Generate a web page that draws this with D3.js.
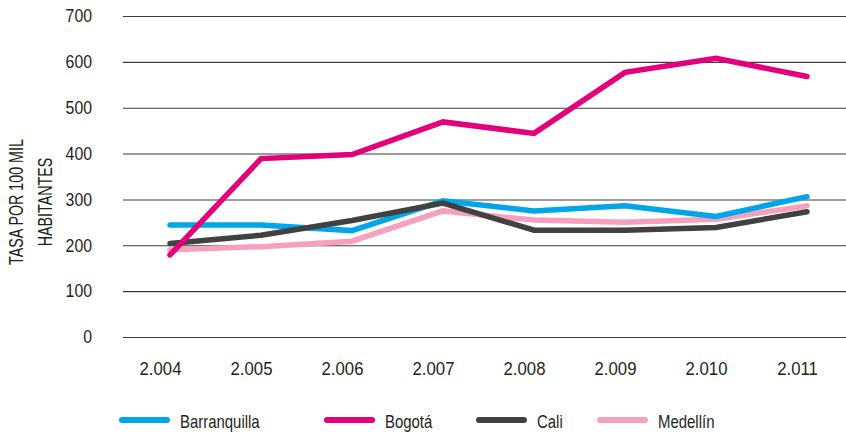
<!DOCTYPE html>
<html>
<head>
<meta charset="utf-8">
<script src="https://cdn.jsdelivr.net/npm/d3@7"></script>
<style>
  html, body { margin: 0; padding: 0; background: #fff; }
  svg text { font-family: "Liberation Sans", Arial, sans-serif; fill: #231f20; }
</style>
</head>
<body>
<svg id="chart" width="846" height="433"></svg>
<script>
// Tasa por 100 mil habitantes, 2004–2011
const years = ["2.004", "2.005", "2.006", "2.007", "2.008", "2.009", "2.010", "2.011"];
const barranquilla = [244, 244, 232, 297, 275, 286, 263, 306];
const bogota       = [179, 389, 398, 469, 444, 577, 608, 568];
const cali         = [204, 222, 254, 292, 233, 233, 239, 273];
const medellin     = [190, 197, 209, 275, 255, 250, 257, 286];
const yTicks = [0, 100, 200, 300, 400, 500, 600, 700];

const series = [
  { name: "Barranquilla", values: barranquilla, color: "#00a6e8" },
  { name: "Bogotá",       values: bogota,       color: "#e4007b" },
  { name: "Cali",         values: cali,         color: "#414141" },
  { name: "Medellín",     values: medellin,     color: "#f5a0be" }
];
// drawing order: pink first, then blue, dark, magenta on top
const drawOrder = ["Medellín", "Barranquilla", "Cali", "Bogotá"];

const svg = d3.select("#chart");
const plot = { left: 123, right: 846, top: 16, bottom: 337 };

// squeeze text horizontally around its anchor point (condensed look)
function condense(sel, f) {
  sel.each(function () {
    const ax = +this.getAttribute("x") || 0;
    d3.select(this).attr("transform", `translate(${ax},0) scale(${f},1) translate(${-ax},0)`);
  });
}

const x = d3.scalePoint().domain(years).range([170, 807]);
const y = d3.scaleLinear().domain([0, 700]).range([plot.bottom, plot.top]);

// horizontal gridlines with labels on the left
const yAxis = d3.axisLeft(y).tickValues(yTicks).tickSize(-(plot.right - plot.left)).tickPadding(31);
const gy = svg.append("g").attr("transform", `translate(${plot.left},0)`).call(yAxis);
gy.select(".domain").remove();
gy.selectAll(".tick line").attr("stroke", "#3c3c3c").attr("stroke-width", 1.1);
gy.selectAll(".tick text").attr("font-size", 18).attr("font-family", null).attr("fill", "#231f20")
  .call(condense, 0.88);

// category labels
const xAxis = d3.axisBottom(x).tickSize(0).tickPadding(0);
const gx = svg.append("g").attr("transform", `translate(0,${plot.bottom + 38})`).call(xAxis);
gx.select(".domain").remove();
gx.selectAll(".tick text").attr("font-size", 18).attr("font-family", null)
  .attr("x", -10).attr("dy", 0).attr("fill", "#231f20")
  .call(condense, 0.93);

// y axis title (two lines)
const title = svg.append("text")
  .attr("transform", "translate(23,202) rotate(-90) scale(0.68,1)")
  .attr("text-anchor", "middle")
  .attr("font-size", 21);
title.append("tspan").attr("x", 0).attr("dy", 0).text("TASA POR 100 MIL");
title.append("tspan").attr("x", 0).attr("dy", 29).text("HABITANTES");

// series lines
const line = d3.line().x((d, i) => x(years[i])).y(d => y(d));
const byName = new Map(series.map(s => [s.name, s]));
svg.append("g").selectAll("path")
  .data(drawOrder.map(n => byName.get(n)))
  .join("path")
  .attr("d", s => line(s.values))
  .attr("fill", "none")
  .attr("stroke", s => s.color)
  .attr("stroke-width", 5.5)
  .attr("stroke-linejoin", "miter")
  .attr("stroke-linecap", "round");

// legend
const legendX = [119, 324, 476, 597];
const legend = svg.append("g").selectAll("g")
  .data(series)
  .join("g")
  .attr("transform", (d, i) => `translate(${legendX[i]},420)`);
legend.append("line")
  .attr("x1", 3).attr("x2", 48).attr("y1", 0).attr("y2", 0)
  .attr("stroke", d => d.color).attr("stroke-width", 6).attr("stroke-linecap", "round");
legend.append("text")
  .attr("x", 61).attr("y", 8)
  .attr("font-size", 18)
  .text(d => d.name)
  .call(condense, 0.83);
</script>
</body>
</html>
